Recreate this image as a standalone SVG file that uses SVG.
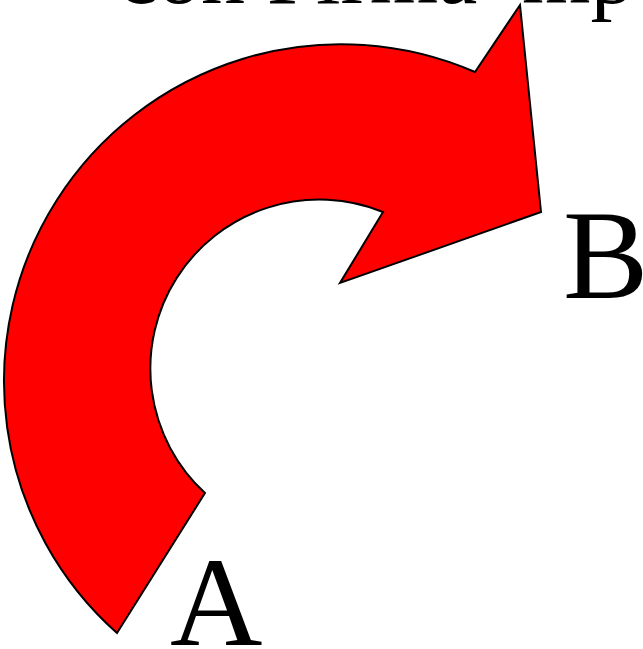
<svg xmlns="http://www.w3.org/2000/svg" width="643" height="649" viewBox="0 0 643 649">
  <style>
    .lbl { font-family: "Liberation Serif", "Times New Roman", serif; fill: #000; }
    .arrow { fill: #FF0000; stroke: #000; stroke-width: 2; stroke-linejoin: miter; }
  </style>
  <rect width="643" height="649" fill="#fff"/>
  <g id="title">
    <text class="lbl" x="118" y="3" font-size="88">con Firma<tspan x="522">mp</tspan></text>
  </g>
  <g id="connectors">
    <path id="curved-arrow" class="arrow" d="M 117 633 A 337 337 0 0 1 475 72 L 520 5 L 541 212 L 340 283 L 383 212 A 169 169 0 0 0 205 493 Z"/>
  </g>
  <g id="node-A">
    <text class="lbl" x="170" y="645" font-size="128">A</text>
  </g>
  <g id="node-B">
    <text class="lbl" x="563" y="298" font-size="128">B</text>
  </g>
</svg>
